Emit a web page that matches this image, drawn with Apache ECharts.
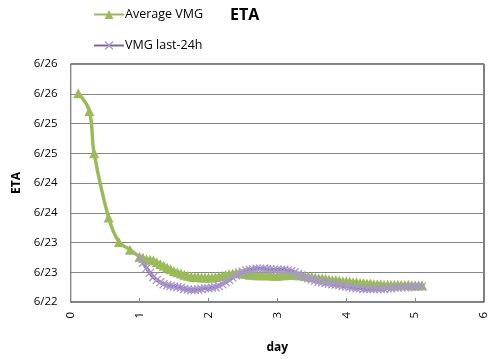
<!DOCTYPE html>
<html><head><meta charset="utf-8">
<script src="https://cdn.jsdelivr.net/npm/echarts@6/dist/echarts.min.js"></script>
<style>html,body{margin:0;padding:0;background:#fff}#c{width:495px;height:359px}</style>
</head><body><div id="c"></div>
<script>
var yTickLabels = ['6/22','6/23','6/23','6/24','6/24','6/25','6/25','6/26','6/26'];
var xTickLabels = ['0','1','2','3','4','5','6'];

var avgX = [0.11,0.27,0.34,0.55,0.70,0.86,1.00,1.05,1.10,1.15,1.20,1.25,1.30,1.35,1.40,1.45,1.50,1.55,1.60,1.65,1.70,1.75,1.80,1.85,1.90,1.95,2.00,2.05,2.10,2.15,2.20,2.25,2.30,2.35,2.40,2.45,2.50,2.55,2.60,2.65,2.70,2.75,2.80,2.85,2.90,2.95,3.00,3.05,3.10,3.15,3.20,3.25,3.30,3.35,3.40,3.45,3.50,3.55,3.60,3.65,3.70,3.75,3.80,3.85,3.90,3.95,4.00,4.05,4.10,4.15,4.20,4.25,4.30,4.35,4.40,4.45,4.50,4.55,4.60,4.65,4.70,4.75,4.80,4.85,4.90,4.95,5.00,5.05,5.10];
var avgY = [25.51,25.21,24.50,23.42,23.01,22.88,22.76,22.74,22.72,22.71,22.70,22.67,22.64,22.61,22.58,22.55,22.52,22.50,22.48,22.46,22.44,22.43,22.42,22.42,22.41,22.41,22.41,22.41,22.42,22.43,22.44,22.46,22.47,22.48,22.49,22.49,22.48,22.47,22.46,22.46,22.45,22.45,22.45,22.45,22.45,22.44,22.44,22.45,22.45,22.46,22.46,22.46,22.45,22.45,22.44,22.43,22.42,22.41,22.40,22.40,22.39,22.38,22.37,22.37,22.36,22.35,22.35,22.34,22.33,22.33,22.32,22.32,22.31,22.31,22.30,22.30,22.30,22.29,22.29,22.29,22.29,22.29,22.29,22.29,22.29,22.28,22.28,22.28,22.28];

var lastX = [1.00,1.05,1.10,1.15,1.20,1.25,1.30,1.35,1.40,1.45,1.50,1.55,1.60,1.65,1.70,1.75,1.80,1.85,1.90,1.95,2.00,2.05,2.10,2.15,2.20,2.25,2.30,2.35,2.40,2.45,2.50,2.55,2.60,2.65,2.70,2.75,2.80,2.85,2.90,2.95,3.00,3.05,3.10,3.15,3.20,3.25,3.30,3.35,3.40,3.45,3.50,3.55,3.60,3.65,3.70,3.75,3.80,3.85,3.90,3.95,4.00,4.05,4.10,4.15,4.20,4.25,4.30,4.35,4.40,4.45,4.50,4.55,4.60,4.65,4.70,4.75,4.80,4.85,4.90,4.95,5.00,5.05,5.10];
var lastY = [22.74,22.66,22.57,22.49,22.42,22.37,22.33,22.30,22.28,22.27,22.26,22.25,22.24,22.22,22.21,22.20,22.20,22.21,22.22,22.23,22.23,22.24,22.25,22.27,22.30,22.33,22.37,22.41,22.45,22.48,22.51,22.53,22.54,22.55,22.56,22.56,22.56,22.55,22.55,22.54,22.54,22.54,22.54,22.53,22.52,22.50,22.47,22.44,22.42,22.40,22.38,22.36,22.34,22.33,22.32,22.31,22.30,22.29,22.28,22.27,22.26,22.25,22.24,22.23,22.23,22.22,22.22,22.22,22.22,22.22,22.22,22.22,22.23,22.23,22.24,22.24,22.25,22.25,22.25,22.26,22.26,22.26,22.26];

function pairs(xs, ys){ return xs.map(function(x,i){ return [x, ys[i]]; }); }
var FONT = '"Open Sans", "Liberation Sans", sans-serif';
var xSym = 'path://M0,1L1,0L5,4L9,0L10,1L6,5L10,9L9,10L5,6L1,10L0,9L4,5Z';

var chart = echarts.init(document.getElementById('c'), null, {renderer:'canvas'});
chart.setOption({
  animation:false,
  backgroundColor:'#fff',
  title:{text:'ETA', left:225, top:2, textStyle:{fontFamily:FONT, fontSize:16, fontWeight:'bold', color:'#000'}},
  legend:{orient:'vertical', left:93, top:8, padding:0, itemGap:18, itemWidth:30, itemHeight:11,
    textStyle:{fontFamily:FONT, fontSize:12.5, color:'#000', padding:[0,0,0,-4]},
    data:['Average VMG','VMG last-24h']},
  grid:{left:70.7, right:11, top:64, bottom:54, show:true, borderColor:'#000', borderWidth:1, backgroundColor:'transparent'},
  xAxis:{type:'value', min:0, max:6, interval:1,
    name:'day', nameLocation:'middle', nameGap:40,
    nameTextStyle:{fontFamily:FONT, fontSize:12, fontWeight:'bold', color:'#000'},
    axisLine:{lineStyle:{color:'#868686', width:1}},
    axisTick:{inside:true, length:4, lineStyle:{color:'#868686'}},
    splitLine:{show:false},
    axisLabel:{rotate:90, fontFamily:FONT, fontSize:11.5, color:'#000', margin:10,
      formatter:function(v){ return xTickLabels[Math.round(v)]; }}},
  yAxis:{type:'value', min:22, max:26, interval:0.5,
    name:'ETA', nameLocation:'middle', nameGap:46, nameRotate:90,
    nameTextStyle:{fontFamily:FONT, fontSize:12, fontWeight:'bold', color:'#000'},
    axisLine:{show:true, lineStyle:{color:'#868686', width:1}},
    axisTick:{show:false},
    splitLine:{lineStyle:{color:'#868686', width:1}},
    axisLabel:{fontFamily:FONT, fontSize:11.5, color:'#000', margin:13,
      formatter:function(v){ return yTickLabels[Math.round((v-22)/0.5)]; }}},
  series:[
    {name:'Average VMG', type:'line', smooth:0.4, data:pairs(avgX, avgY),
      symbol:'triangle', symbolSize:10, showAllSymbol:true,
      lineStyle:{color:'#9BBB59', width:3.5}, itemStyle:{color:'#9BBB59', borderWidth:0}},
    {name:'VMG last-24h', type:'line', smooth:0.4, data:pairs(lastX, lastY),
      symbol:xSym, symbolSize:9, showAllSymbol:true,
      lineStyle:{color:'#8064A2', width:3.5}, itemStyle:{color:'#A996CC', borderWidth:0}}
  ]
});
</script></body></html>
